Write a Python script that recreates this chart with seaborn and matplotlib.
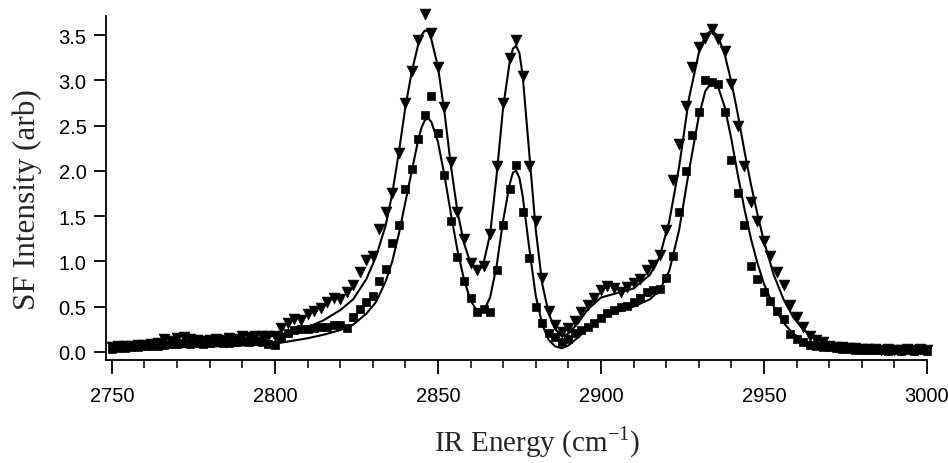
import numpy as np
import pandas as pd
import matplotlib
matplotlib.use("Agg")
import matplotlib.pyplot as plt
from matplotlib.ticker import MultipleLocator
import seaborn as sns

# ---------------- data ----------------
energy = list(range(2750, 3001, 2))

tri_y = [0.05, 0.06, 0.07, 0.06, 0.08, 0.08, 0.09, 0.10, 0.14, 0.12,
         0.15, 0.16, 0.14, 0.13, 0.12, 0.13, 0.14, 0.13, 0.15, 0.14,
         0.17, 0.16, 0.18, 0.17, 0.18, 0.17, 0.26, 0.32, 0.36, 0.35,
         0.42, 0.45, 0.48, 0.55, 0.60, 0.58, 0.66, 0.74, 0.88, 1.02,
         1.06, 1.36, 1.55, 1.75, 2.20, 2.75, 3.10, 3.45, 3.73, 3.52,
         3.15, 2.70, 2.10, 1.55, 1.25, 0.98, 0.90, 0.95, 1.30, 2.05,
         2.75, 3.25, 3.44, 3.05, 2.05, 1.45, 0.82, 0.45, 0.30, 0.22,
         0.26, 0.34, 0.44, 0.52, 0.60, 0.68, 0.73, 0.70, 0.66, 0.72,
         0.76, 0.81, 0.90, 0.96, 1.07, 1.35, 1.90, 2.30, 2.72, 3.15,
         3.37, 3.47, 3.57, 3.46, 3.32, 2.96, 2.50, 2.05, 1.65, 1.45,
         1.22, 1.06, 0.88, 0.74, 0.52, 0.38, 0.27, 0.18, 0.13, 0.11,
         0.07, 0.05, 0.05, 0.04, 0.04, 0.03, 0.03, 0.03, 0.02, 0.03,
         0.02, 0.02, 0.03, 0.02, 0.03, 0.02]

sq_y = [0.03, 0.04, 0.04, 0.05, 0.05, 0.06, 0.07, 0.07, 0.08, 0.09,
        0.09, 0.10, 0.09, 0.10, 0.09, 0.10, 0.11, 0.10, 0.10, 0.11,
        0.12, 0.11, 0.12, 0.11, 0.09, 0.08, 0.15, 0.21, 0.24, 0.25,
        0.25, 0.26, 0.27, 0.28, 0.30, 0.30, 0.26, 0.38, 0.47, 0.55,
        0.62, 0.78, 0.92, 1.20, 1.40, 1.80, 2.02, 2.35, 2.62, 2.83,
        2.42, 1.95, 1.45, 1.05, 0.78, 0.60, 0.44, 0.47, 0.44, 0.90,
        1.40, 1.80, 2.06, 1.55, 1.04, 0.50, 0.32, 0.21, 0.16, 0.11,
        0.14, 0.21, 0.24, 0.28, 0.32, 0.37, 0.43, 0.46, 0.49, 0.51,
        0.55, 0.60, 0.66, 0.68, 0.69, 0.82, 1.06, 1.55, 2.00, 2.39,
        2.65, 3.00, 2.98, 2.96, 2.65, 2.12, 1.75, 1.40, 0.95, 0.80,
        0.66, 0.56, 0.45, 0.36, 0.20, 0.14, 0.11, 0.08, 0.07, 0.05,
        0.05, 0.04, 0.03, 0.03, 0.02, 0.02, 0.02, 0.02, 0.02, 0.01,
        0.02, 0.01, 0.02, 0.01, 0.02, 0.01]

fit_x = [2750, 2760, 2770, 2780, 2790, 2795, 2800, 2805, 2810, 2815,
         2820, 2824, 2828, 2831, 2834, 2836, 2838, 2840, 2842, 2844,
         2845, 2846, 2847, 2848, 2850, 2852, 2854, 2856, 2858, 2860,
         2862, 2863, 2864, 2866, 2868, 2870, 2872, 2873, 2874, 2875,
         2876, 2878, 2880, 2882, 2884, 2886, 2888, 2890, 2893, 2896,
         2900, 2905, 2910, 2915, 2918, 2921, 2924, 2927, 2930, 2932,
         2934, 2936, 2938, 2940, 2942, 2944, 2946, 2948, 2950, 2953,
         2956, 2959, 2962, 2966, 2970, 2975, 2980, 2990, 3000]

fit_tri = [0.04, 0.06, 0.08, 0.10, 0.13, 0.15, 0.18, 0.22, 0.27, 0.35,
           0.46, 0.58, 0.80, 1.05, 1.40, 1.75, 2.20, 2.70, 3.10, 3.40,
           3.50, 3.55, 3.54, 3.45, 3.15, 2.65, 2.05, 1.55, 1.20, 0.98,
           0.90, 0.92, 0.98, 1.30, 1.95, 2.70, 3.20, 3.35, 3.38, 3.30,
           3.05, 2.20, 1.35, 0.75, 0.42, 0.25, 0.17, 0.20, 0.32, 0.47,
           0.60, 0.65, 0.70, 0.85, 1.05, 1.45, 2.05, 2.80, 3.30, 3.50,
           3.55, 3.48, 3.28, 2.98, 2.62, 2.22, 1.85, 1.52, 1.22, 0.85,
           0.58, 0.38, 0.25, 0.14, 0.08, 0.05, 0.03, 0.02, 0.01]

fit_sq = [0.03, 0.04, 0.05, 0.06, 0.07, 0.08, 0.09, 0.12, 0.15, 0.19,
          0.24, 0.30, 0.42, 0.55, 0.78, 1.00, 1.30, 1.65, 2.00, 2.35,
          2.48, 2.56, 2.58, 2.54, 2.32, 1.95, 1.52, 1.12, 0.80, 0.57,
          0.45, 0.43, 0.45, 0.60, 0.95, 1.45, 1.85, 1.98, 2.00, 1.92,
          1.72, 1.15, 0.62, 0.30, 0.13, 0.06, 0.04, 0.07, 0.16, 0.26,
          0.36, 0.44, 0.50, 0.58, 0.68, 0.90, 1.35, 2.00, 2.60, 2.88,
          2.98, 2.92, 2.70, 2.35, 1.95, 1.58, 1.25, 0.98, 0.75, 0.50,
          0.32, 0.20, 0.13, 0.08, 0.05, 0.03, 0.02, 0.01, 0.01]

x_ticks = [2750, 2800, 2850, 2900, 2950, 3000]
y_ticks = [0.0, 0.5, 1.0, 1.5, 2.0, 2.5, 3.0, 3.5]

# ---------------- plotting ----------------
sns.set_style("ticks")
plt.rcParams['font.family'] = ['Liberation Sans', 'DejaVu Sans']

fig = plt.figure(figsize=(9.48, 4.64), dpi=100)
ax = fig.add_axes([106/948, 1 - 361/464, (927-106)/948, (361-17)/464])

pts = pd.DataFrame({"E": energy, "tri": tri_y, "sq": sq_y})
fits = pd.DataFrame({"E": fit_x, "ft": fit_tri, "fs": fit_sq})

sns.lineplot(data=fits, x="E", y="ft", ax=ax, color="black", lw=1.5, sort=False)
sns.lineplot(data=fits, x="E", y="fs", ax=ax, color="black", lw=1.5, sort=False)
sns.scatterplot(data=pts, x="E", y="tri", ax=ax, marker="v", s=60,
                color="black", edgecolor="black", linewidth=0.5, zorder=3,
                clip_on=False)
sns.scatterplot(data=pts, x="E", y="sq", ax=ax, marker="s", s=30,
                color="black", edgecolor="black", linewidth=0.5, zorder=3,
                clip_on=False)

ax.set_xlim(2748.2, 3000)
ax.set_ylim(-0.09, 3.71)
ax.set_xticks(x_ticks)
ax.set_yticks(y_ticks)
ax.set_xticklabels([str(t) for t in x_ticks])
ax.set_yticklabels([f"{t:.1f}" for t in y_ticks])
ax.xaxis.set_minor_locator(MultipleLocator(10))

for s in ["top", "right"]:
    ax.spines[s].set_visible(False)
for s in ["left", "bottom"]:
    ax.spines[s].set_linewidth(1.3)
    ax.spines[s].set_color("black")

ax.tick_params(axis="x", which="major", direction="out", length=10, width=1.3,
               labelsize=14.5, pad=9, colors="black")
ax.tick_params(axis="x", which="minor", direction="out", length=6, width=1.3)
ax.tick_params(axis="y", which="major", direction="out", length=9, width=1.3,
               labelsize=14.5, pad=5, colors="black")

ax.set_xlabel("IR Energy (cm$^{\\mathregular{-1}}$)", fontsize=21,
              family=["Liberation Serif", "DejaVu Serif"])
ax.set_ylabel("SF Intensity (arb)", fontsize=22.5,
              family=["Liberation Serif", "DejaVu Serif"])
ax.xaxis.set_label_coords((537 - 106) / (927 - 106), -0.185)
ax.yaxis.set_label_coords(-0.078, 0.47)

fig.savefig("out.png", dpi=100, facecolor="white")
